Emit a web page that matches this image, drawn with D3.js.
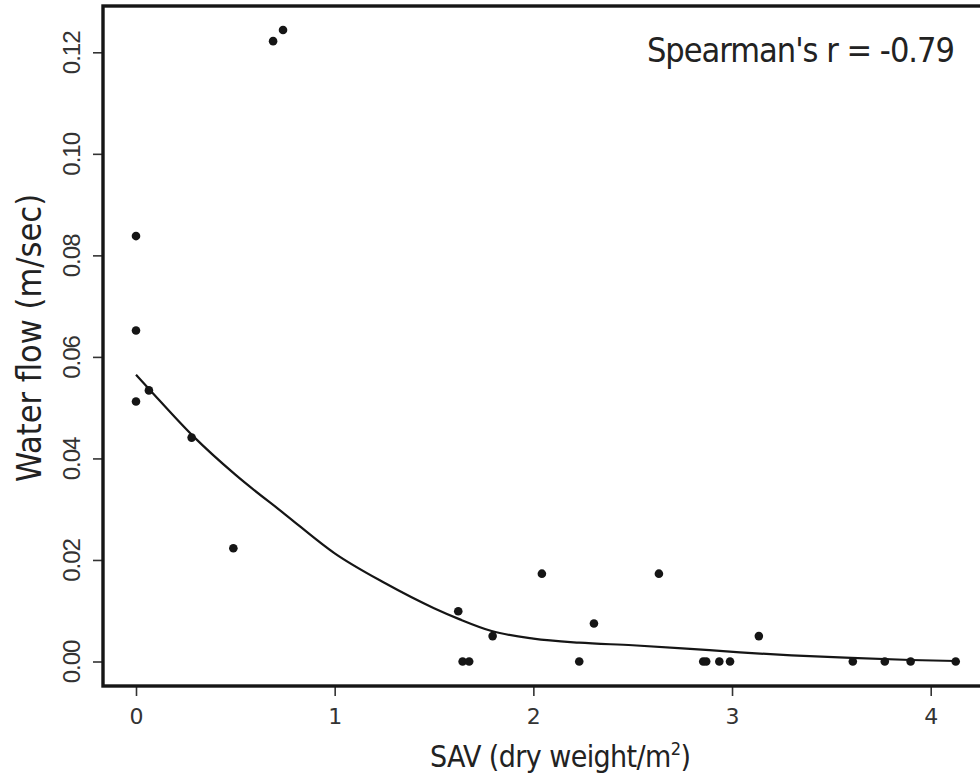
<!DOCTYPE html>
<html>
<head>
<meta charset="utf-8">
<script src="https://cdn.jsdelivr.net/npm/d3@7"></script>
<style>
  html, body { margin: 0; padding: 0; background: #ffffff; }
  svg { display: block; }
  .cond { font-family: 'DejaVu Sans Condensed', 'DejaVu Sans', Verdana, sans-serif; font-stretch: condensed; }
</style>
</head>
<body>
<svg id="chart" width="980" height="780"></svg>
<script>
// Observed samples: SAV biomass vs. water flow
const sav  = [0, 0, 0, 0.065, 0.28, 0.49, 0.69, 0.74, 1.622, 1.644, 1.677, 1.795,
              2.043, 2.231, 2.305, 2.632, 2.855, 2.87, 2.936, 2.99, 3.135, 3.608,
              3.769, 3.899, 4.126];
const flow = [0.0838, 0.0652, 0.0512, 0.0534, 0.0441, 0.0223, 0.1222, 0.1244, 0.0099, 0, 0, 0.0050,
              0.0173, 0, 0.0075, 0.0173, 0, 0, 0, 0, 0.0050, 0,
              0, 0, 0];

// Smoothed trend line
const fitX = [0, 0.07, 0.29, 0.5, 0.75, 1.0, 1.25, 1.5, 1.63, 1.79, 2.0, 2.23, 2.5, 2.75, 3.04, 3.3, 3.6, 3.9, 4.126];
const fitY = [0.0565, 0.0535, 0.0443, 0.0368, 0.0290, 0.0213, 0.0155, 0.0105, 0.0083, 0.0060, 0.0045, 0.0037, 0.0032, 0.0026, 0.0018, 0.0012, 0.0007, 0.0003, 0.0001];

// Axis ticks
const xTicks = [0, 1, 2, 3, 4];
const yTicks = [0, 0.02, 0.04, 0.06, 0.08, 0.10, 0.12];

const svg = d3.select("#chart");
const ink = "#151515";

const x = d3.scaleLinear().domain([0, 4]).range([136, 930.7]);
const y = d3.scaleLinear().domain([0, 0.12]).range([661.5, 52.3]);

const frame = { left: 103, top: 6, bottom: 686 };

// y axis
const yAxis = svg.append("g")
  .attr("transform", `translate(${frame.left},0)`)
  .call(d3.axisLeft(y).tickValues(yTicks).tickSize(10).tickFormat(d3.format(".2f")));
yAxis.select(".domain").remove();
yAxis.selectAll(".tick line").attr("stroke", "#333").attr("stroke-width", 1.6);
yAxis.selectAll(".tick text")
  .attr("transform", "rotate(-90)")
  .attr("x", 0).attr("y", -23).attr("dy", 0)
  .attr("text-anchor", "middle")
  .attr("fill", "#333")
  .style("font-family", "'Liberation Sans', Arial, sans-serif")
  .style("font-size", "24px")
  .style("letter-spacing", "-1px");

// x axis
const xAxis = svg.append("g")
  .attr("transform", `translate(0,${frame.bottom})`)
  .call(d3.axisBottom(x).tickValues(xTicks).tickSize(10).tickFormat(d3.format("d")));
xAxis.select(".domain").remove();
xAxis.selectAll(".tick line").attr("stroke", "#333").attr("stroke-width", 1.6);
xAxis.selectAll(".tick text")
  .attr("y", 38).attr("dy", 0)
  .attr("fill", "#333")
  .style("font-family", "'DejaVu Sans', Verdana, sans-serif")
  .style("font-size", "22px");

// plot frame (right side runs past the canvas)
svg.append("rect")
  .attr("x", frame.left).attr("y", frame.top)
  .attr("width", 1000).attr("height", frame.bottom - frame.top)
  .attr("fill", "none").attr("stroke", ink).attr("stroke-width", 3.4);

// trend line
const pts = fitX.map((d, i) => [d, fitY[i]]);
svg.append("path")
  .datum(pts)
  .attr("fill", "none")
  .attr("stroke", ink)
  .attr("stroke-width", 2.2)
  .attr("d", d3.line().x(d => x(d[0])).y(d => y(d[1])).curve(d3.curveMonotoneX));

// points
svg.append("g").selectAll("circle")
  .data(sav.map((d, i) => [d, flow[i]]))
  .join("circle")
  .attr("cx", d => x(d[0]))
  .attr("cy", d => y(d[1]))
  .attr("r", 4.3)
  .attr("fill", ink);

// annotation
svg.append("text")
  .attr("class", "cond")
  .attr("x", 954).attr("y", 62)
  .attr("text-anchor", "end")
  .attr("fill", "#222")
  .style("font-size", "34px")
  .style("letter-spacing", "-1px")
  .text("Spearman's r = -0.79");

// axis titles
const xt = svg.append("text")
  .attr("class", "cond")
  .attr("x", 430).attr("y", 767)
  .attr("fill", "#222")
  .style("font-size", "30px")
  .style("letter-spacing", "-0.6px");
xt.append("tspan").text("SAV (dry weight/m");
xt.append("tspan").attr("dy", -12).style("font-size", "18px").text("2");
xt.append("tspan").attr("dy", 12).text(")");

svg.append("text")
  .attr("class", "cond")
  .attr("transform", "translate(41,338) rotate(-90)")
  .attr("text-anchor", "middle")
  .attr("fill", "#222")
  .style("font-size", "34px")
  .text("Water flow (m/sec)");
</script>
</body>
</html>
